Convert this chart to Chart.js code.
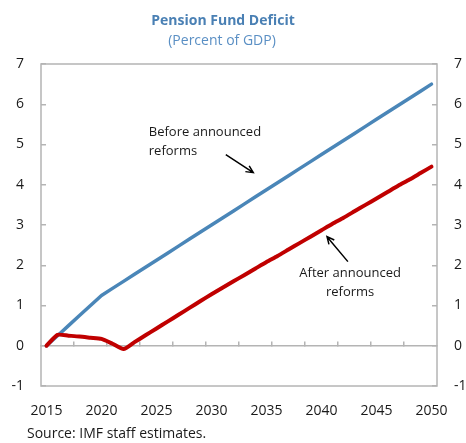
<!DOCTYPE html>
<html>
<head>
<meta charset="utf-8">
<style>
  html, body { margin: 0; padding: 0; background: #ffffff; }
  #wrap { width: 466px; height: 443px; }
</style>
<script src="https://cdn.jsdelivr.net/npm/chart.js@4.4.1/dist/chart.umd.min.js"></script>
</head>
<body>
<div id="wrap"><canvas id="chart" width="466" height="443"></canvas></div>
<script>
// Pension fund deficit projections, percent of GDP
const years = [2015, 2016, 2017, 2018, 2019, 2020, 2021, 2022, 2023, 2024,
               2025, 2026, 2027, 2028, 2029, 2030, 2031, 2032, 2033, 2034,
               2035, 2036, 2037, 2038, 2039, 2040, 2041, 2042, 2043, 2044,
               2045, 2046, 2047, 2048, 2049, 2050];

const beforeReforms = [0.00, 0.25, 0.50, 0.75, 1.00, 1.25, 1.425, 1.60, 1.775, 1.95,
                       2.125, 2.30, 2.475, 2.65, 2.825, 3.00, 3.175, 3.35, 3.525, 3.70,
                       3.875, 4.05, 4.225, 4.40, 4.575, 4.75, 4.925, 5.10, 5.275, 5.45,
                       5.625, 5.80, 5.975, 6.15, 6.325, 6.50];

const afterReforms = [0.00, 0.27, 0.25, 0.23, 0.20, 0.17, 0.05, -0.08, 0.09, 0.26,
                      0.43, 0.60, 0.77, 0.94, 1.11, 1.28, 1.44, 1.60, 1.76, 1.92,
                      2.08, 2.23, 2.39, 2.55, 2.71, 2.87, 3.03, 3.18, 3.34, 3.50,
                      3.66, 3.82, 3.98, 4.13, 4.29, 4.45];

const xTickYears = [2015, 2020, 2025, 2030, 2035, 2040, 2045, 2050];
const yTickValues = [-1, 0, 1, 2, 3, 4, 5, 6, 7];

const titleText = 'Pension Fund Deficit';
const subtitleText = '(Percent of GDP)';
const sourceText = 'Source: IMF staff estimates.';

const FONT = '"Open Sans", "DejaVu Sans", sans-serif';
const AXIS_GREY = '#b4b4b4';
const TEXT_COLOR = '#1a1a1a';

const toPoints = (vals) => vals.map((v, i) => ({ x: years[i], y: v }));

// Callout labels with arrows, placed in data coordinates
const callouts = [
  { lines: ['Before announced', 'reforms'], align: 'left', x: 2024.3, y: [5.30, 4.82],
    arrow: { from: [2031.3, 4.75], to: [2033.8, 4.30] } },
  { lines: ['After announced', 'reforms'], align: 'center', x: 2042.6, y: [1.81, 1.33],
    arrow: { from: [2042.4, 2.09], to: [2040.5, 2.71] } }
];

function drawArrow(ctx, x1, y1, x2, y2) {
  const ang = Math.atan2(y2 - y1, x2 - x1);
  const head = 8;
  ctx.beginPath();
  ctx.moveTo(x1, y1);
  ctx.lineTo(x2, y2);
  ctx.moveTo(x2 - head * Math.cos(ang - 0.45), y2 - head * Math.sin(ang - 0.45));
  ctx.lineTo(x2, y2);
  ctx.lineTo(x2 - head * Math.cos(ang + 0.45), y2 - head * Math.sin(ang + 0.45));
  ctx.stroke();
}

const decorations = {
  id: 'decorations',
  beforeDatasetsDraw(chart) {
    const { ctx, chartArea: a } = chart;
    ctx.save();
    ctx.strokeStyle = AXIS_GREY;
    ctx.lineWidth = 1.5;
    ctx.strokeRect(a.left, a.top, a.right - a.left, a.bottom - a.top);
    ctx.restore();
  },
  afterDraw(chart) {
    const { ctx } = chart;
    const xs = chart.scales.x, ys = chart.scales.y;
    ctx.save();
    // Titles
    ctx.textAlign = 'center';
    ctx.textBaseline = 'alphabetic';
    ctx.fillStyle = '#4a80b4';
    ctx.font = 'bold 14px ' + FONT;
    ctx.fillText(titleText, 223, 25);
    ctx.fillStyle = '#5a8fc4';
    ctx.font = '14px ' + FONT;
    ctx.fillText(subtitleText, 222, 45);
    // Source note
    ctx.textAlign = 'left';
    ctx.fillStyle = TEXT_COLOR;
    ctx.font = '14px ' + FONT;
    ctx.fillText(sourceText, 27, 438);
    // Callouts
    ctx.font = '13px ' + FONT;
    ctx.textBaseline = 'middle';
    ctx.strokeStyle = '#000000';
    ctx.lineWidth = 1.5;
    callouts.forEach(c => {
      ctx.textAlign = c.align;
      c.lines.forEach((t, i) => ctx.fillText(t, xs.getPixelForValue(c.x), ys.getPixelForValue(c.y[i])));
      drawArrow(ctx,
        xs.getPixelForValue(c.arrow.from[0]), ys.getPixelForValue(c.arrow.from[1]),
        xs.getPixelForValue(c.arrow.to[0]), ys.getPixelForValue(c.arrow.to[1]));
    });
    ctx.restore();
  }
};

const yAxisCommon = {
  type: 'linear',
  min: -1,
  max: 7,
  afterBuildTicks(scale) { scale.ticks = yTickValues.map(v => ({ value: v })); },
  border: { display: false },
  grid: { drawOnChartArea: false, drawTicks: true, tickLength: -5, color: AXIS_GREY, lineWidth: 1.5 },
  ticks: { color: TEXT_COLOR, font: { family: FONT, size: 14 }, padding: 22 }
};

new Chart(document.getElementById('chart'), {
  type: 'line',
  data: {
    datasets: [
      { label: 'After announced reforms', data: toPoints(afterReforms), borderColor: '#c00000',
        borderWidth: 4, pointRadius: 0, tension: 0.2, order: 0,
        borderCapStyle: 'round', borderJoinStyle: 'round' },
      { label: 'Before announced reforms', data: toPoints(beforeReforms), borderColor: '#4a86b8',
        borderWidth: 3.5, pointRadius: 0, tension: 0, order: 1,
        borderCapStyle: 'round', borderJoinStyle: 'round' }
    ]
  },
  options: {
    responsive: false,
    animation: false,
    devicePixelRatio: 1,
    layout: { padding: { top: 64, left: 0, right: 0, bottom: 0 } },
    plugins: { legend: { display: false }, tooltip: { enabled: false }, title: { display: false } },
    scales: {
      x: {
        type: 'linear',
        position: 'bottom',
        min: 2014.5,
        max: 2050.5,
        afterBuildTicks(scale) { scale.ticks = xTickYears.map(v => ({ value: v })); },
        afterFit(scale) { scale.height = 57; },
        border: { display: false },
        grid: { display: false },
        ticks: { color: TEXT_COLOR, font: { family: FONT, size: 14 }, padding: 9, maxRotation: 0,
                 callback: v => String(v) }
      },
      zeroLine: {
        type: 'linear',
        axis: 'x',
        position: { y: 0 },
        min: 2014.5,
        max: 2050.5,
        afterBuildTicks(scale) {
          const t = [];
          for (let v = scale.min + 3; v < scale.max; v += 3) t.push({ value: v });
          scale.ticks = t;
        },
        border: { display: true, color: AXIS_GREY, width: 1.5 },
        grid: { drawOnChartArea: false, drawTicks: true, tickLength: -5, color: AXIS_GREY, lineWidth: 1.5 },
        ticks: { display: false }
      },
      y: Object.assign({}, yAxisCommon, {
        position: 'left',
        afterFit(scale) { scale.width = 41; }
      }),
      y2: Object.assign({}, yAxisCommon, {
        position: 'right',
        afterFit(scale) { scale.width = 29; }
      })
    }
  },
  plugins: [decorations]
});
</script>
</body>
</html>
